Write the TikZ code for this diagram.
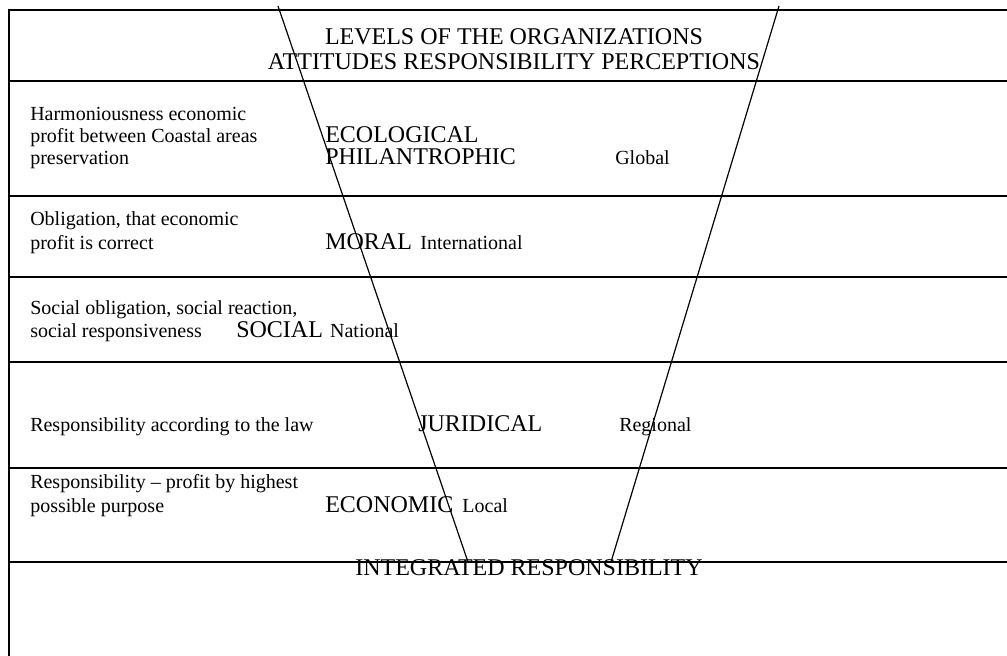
\documentclass[tikz,border=0pt]{standalone}
\usepackage{fontspec}
\setmainfont{Liberation Serif}
\usetikzlibrary{positioning}

\begin{document}
\begin{tikzpicture}[x=0.75pt,y=-0.75pt,
  lefttext/.style={anchor=base west,inner sep=0pt,font=\fontsize{15}{18}\selectfont},
  caps/.style={anchor=base west,inner sep=0pt,font=\fontsize{18}{22}\selectfont},
  small/.style={anchor=base west,inner sep=0pt,font=\fontsize{15}{18}\selectfont},
  title/.style={anchor=base,inner sep=0pt,font=\fontsize{18}{22}\selectfont},
  rule/.style={line width=1.3pt},
  vline/.style={line width=0.9pt}]
\useasboundingbox (0,0) rectangle (1007,656);
\coordinate (box-nw) at (9,10);
\coordinate (box-ne) at (1007,10);
\coordinate (box-sw) at (9,656);
\draw[rule] (box-sw) -- (box-nw) -- (box-ne);
\foreach \y in {81,196,277,362,468,562}{
  \coordinate (rule-w-\y) at (9,\y);
  \coordinate (rule-e-\y) at (1007,\y);
  \draw[rule] (rule-w-\y) -- (rule-e-\y);
};
\node[title] at (514,45) (levels) {LEVELS OF THE ORGANIZATIONS};
\node[title] at (514,70) (attitudes) {ATTITUDES RESPONSIBILITY PERCEPTIONS};
\node[lefttext] at (30,121) (row-1-a) {Harmoniousness economic};
\node[lefttext] at (30,143) (row-1-b) {profit between Coastal areas};
\node[lefttext] at (30,165) (row-1-c) {preservation};
\node[caps] at (325,143) (ecological) {ECOLOGICAL};
\node[caps] at (325,165) (philantrophic) {PHILANTROPHIC};
\node[small] at (615,165) (global) {Global};
\node[lefttext] at (30,226) (row-2-a) {Obligation, that economic};
\node[lefttext] at (30,249) (row-2-b) {profit is correct};
\node[caps] at (325,249) (moral) {MORAL};
\node[small,base right=6pt of moral] (international) {International};
\node[lefttext] at (30,314) (row-3-a) {Social obligation, social reaction,};
\node[lefttext] at (30,337) (row-3-b) {social responsiveness};
\node[caps] at (236,337) (social) {SOCIAL};
\node[small,base right=5pt of social] (national) {National};
\node[lefttext] at (30,431) (row-4-a) {Responsibility according to the law};
\node[caps] at (418,431) (juridical) {JURIDICAL};
\node[small] at (619,431) (regional) {Regional};
\node[lefttext] at (30,488) (row-5-a) {Responsibility -- profit by highest};
\node[lefttext] at (30,512) (row-5-b) {possible purpose};
\node[caps] at (325,512) (economic) {ECONOMIC};
\node[small,base right=6.5pt of economic] (local) {Local};
\node[title] at (529,575) (integrated) {INTEGRATED RESPONSIBILITY};
\coordinate (v-left-top) at (278,6);
\coordinate (v-left-bot) at (468,562);
\coordinate (v-right-top) at (779,6);
\coordinate (v-right-bot) at (611,562);
\draw[vline] (v-left-top) -- (v-left-bot);
\draw[vline] (v-right-top) -- (v-right-bot);
\end{tikzpicture}
\end{document}
